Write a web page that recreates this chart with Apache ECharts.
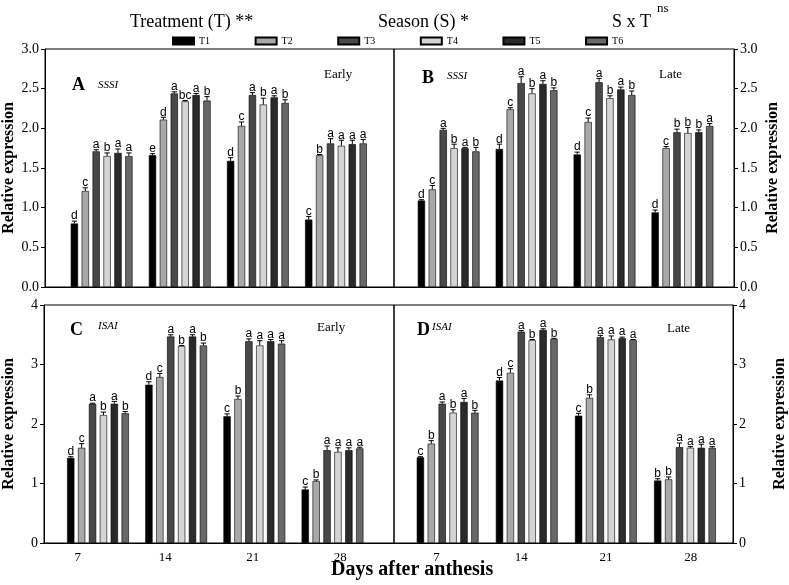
<!DOCTYPE html>
<html>
<head>
<meta charset="utf-8">
<script src="https://cdn.jsdelivr.net/npm/echarts@6/dist/echarts.min.js"></script>
<style>html,body{margin:0;padding:0;background:#fff}#c{width:789px;height:585px}</style>
</head>
<body>
<div id="c"></div>
<script>
// ---------- DATA ----------
const DAYS = ['7', '14', '21', '28'];
const TREATMENTS = ['T1', 'T2', 'T3', 'T4', 'T5', 'T6'];
const TOP_TICKS = [0, 0.5, 1.0, 1.5, 2.0, 2.5, 3.0];
const BOTTOM_TICKS = [0, 1, 2, 3, 4];

// Panel A: SSSI, Early (rows T1..T6, columns 7,14,21,28 days)
const A_mean = [
  [0.80, 1.66, 1.59, 0.85],
  [1.21, 2.11, 2.03, 1.66],
  [1.71, 2.44, 2.42, 1.81],
  [1.65, 2.34, 2.30, 1.78],
  [1.69, 2.42, 2.39, 1.80],
  [1.65, 2.35, 2.32, 1.81]
];
const A_err = [
  [0.03, 0.02, 0.04, 0.04],
  [0.04, 0.03, 0.05, 0.01],
  [0.02, 0.02, 0.03, 0.06],
  [0.04, 0.01, 0.08, 0.07],
  [0.05, 0.02, 0.02, 0.05],
  [0.04, 0.05, 0.04, 0.05]
];
const A_letters = [
  ['d', 'e', 'd', 'c'],
  ['c', 'd', 'c', 'b'],
  ['a', 'a', 'a', 'a'],
  ['b', 'bc', 'b', 'a'],
  ['a', 'a', 'a', 'a'],
  ['a', 'b', 'b', 'a']
];

// Panel B: SSSI, Late
const B_mean = [
  [1.09, 1.74, 1.67, 0.94],
  [1.23, 2.24, 2.08, 1.75],
  [1.98, 2.57, 2.58, 1.95],
  [1.75, 2.44, 2.38, 1.94],
  [1.75, 2.56, 2.49, 1.95],
  [1.71, 2.48, 2.42, 2.03]
];
const B_err = [
  [0.01, 0.06, 0.03, 0.03],
  [0.05, 0.02, 0.05, 0.02],
  [0.02, 0.08, 0.05, 0.04],
  [0.05, 0.06, 0.03, 0.07],
  [0.01, 0.04, 0.03, 0.03],
  [0.05, 0.03, 0.05, 0.03]
];
const B_letters = [
  ['d', 'd', 'd', 'd'],
  ['c', 'c', 'c', 'c'],
  ['a', 'a', 'a', 'b'],
  ['b', 'b', 'b', 'b'],
  ['a', 'a', 'a', 'b'],
  ['b', 'b', 'b', 'a']
];

// Panel C: ISAI, Early
const C_mean = [
  [1.43, 2.66, 2.13, 0.90],
  [1.60, 2.79, 2.42, 1.04],
  [2.34, 3.47, 3.39, 1.56],
  [2.15, 3.31, 3.32, 1.53],
  [2.34, 3.47, 3.39, 1.56],
  [2.18, 3.32, 3.35, 1.59]
];
const C_err = [
  [0.02, 0.05, 0.04, 0.04],
  [0.07, 0.06, 0.05, 0.02],
  [0.01, 0.03, 0.04, 0.07],
  [0.05, 0.01, 0.08, 0.07],
  [0.04, 0.03, 0.03, 0.04],
  [0.03, 0.04, 0.05, 0.02]
];
const C_letters = [
  ['d', 'd', 'c', 'c'],
  ['c', 'c', 'b', 'b'],
  ['a', 'a', 'a', 'a'],
  ['b', 'b', 'a', 'a'],
  ['a', 'a', 'a', 'a'],
  ['b', 'b', 'a', 'a']
];

// Panel D: ISAI, Late
const D_mean = [
  [1.44, 2.73, 2.14, 1.05],
  [1.67, 2.86, 2.44, 1.07],
  [2.34, 3.55, 3.46, 1.61],
  [2.19, 3.41, 3.42, 1.60],
  [2.37, 3.58, 3.44, 1.60],
  [2.19, 3.43, 3.41, 1.60]
];
const D_err = [
  [0.01, 0.05, 0.04, 0.03],
  [0.05, 0.07, 0.05, 0.04],
  [0.03, 0.02, 0.03, 0.07],
  [0.05, 0.01, 0.06, 0.02],
  [0.06, 0.02, 0.02, 0.06],
  [0.04, 0.01, 0.01, 0.02]
];
const D_letters = [
  ['c', 'd', 'c', 'b'],
  ['b', 'c', 'b', 'b'],
  ['a', 'a', 'a', 'a'],
  ['b', 'b', 'a', 'a'],
  ['a', 'a', 'a', 'a'],
  ['b', 'b', 'a', 'a']
];

// ---------- STYLE / LAYOUT ----------
const SERIF = '"Liberation Serif", "Times New Roman", serif';
const SANS = '"Liberation Sans", Arial, sans-serif';
const COLORS = ['#000000', '#a8a8a8', '#484848', '#d4d4d4', '#2a2a2a', '#686868'];
const BAR_W = 7.3;
const PITCH = 10.9;

const panels = [
  { mean: A_mean, err: A_err, letters: A_letters, ticks: TOP_TICKS, fmt: v => v.toFixed(1), pos: 'left',
    frame: { left: 43, top: 49, width: 351, height: 238 }, bars: { left: 62.6, width: 312.4 }, nameGap: 28, labels: false, lblPad: 0 },
  { mean: B_mean, err: B_err, letters: B_letters, ticks: TOP_TICKS, fmt: v => v.toFixed(1), pos: 'right',
    frame: { left: 394, top: 49, width: 340, height: 238 }, bars: { left: 409.7, width: 311.7 }, nameGap: 31, labels: false, lblPad: 0 },
  { mean: C_mean, err: C_err, letters: C_letters, ticks: BOTTOM_TICKS, fmt: v => String(v), pos: 'left',
    frame: { left: 42, top: 305, width: 352, height: 238 }, bars: { left: 58.9, width: 312.7 }, nameGap: 27, labels: true, lblPad: 20 },
  { mean: D_mean, err: D_err, letters: D_letters, ticks: BOTTOM_TICKS, fmt: v => String(v), pos: 'right',
    frame: { left: 394, top: 305, width: 342, height: 238 }, bars: { left: 408.1, width: 316.4 }, nameGap: 39, labels: true, lblPad: 0 }
];

const grid = [], xAxis = [], yAxis = [], series = [];

panels.forEach((p, k) => {
  const ymin = p.ticks[0], ymax = p.ticks[p.ticks.length - 1];
  const step = p.ticks[1] - p.ticks[0];
  grid[k] = { left: p.frame.left, top: p.frame.top, width: p.frame.width, height: p.frame.height,
              show: true, borderColor: '#000', borderWidth: 1, containLabel: false };
  grid[4 + k] = { left: p.bars.left, top: p.frame.top, width: p.bars.width, height: p.frame.height, containLabel: false };
  xAxis[k] = {
    type: 'category', gridIndex: k, data: DAYS, boundaryGap: true,
    axisLine: { show: true, lineStyle: { color: '#000', width: 1 } },
    axisTick: { show: false },
    axisLabel: { show: p.labels, color: '#000', fontFamily: SERIF, fontSize: 13, margin: 8,
                 padding: [0, p.lblPad, 0, 0] },
    splitLine: { show: false }
  };
  xAxis[4 + k] = { type: 'category', gridIndex: 4 + k, data: DAYS, show: false, boundaryGap: true };
  yAxis[k] = {
    type: 'value', gridIndex: k, position: p.pos, min: ymin, max: ymax, interval: step,
    axisLine: { show: true, lineStyle: { color: '#000', width: 1 } },
    axisTick: { show: true, inside: false, length: 4, lineStyle: { color: '#000' } },
    axisLabel: { color: '#000', fontFamily: SERIF, fontSize: 14, margin: 6, formatter: p.fmt },
    splitLine: { show: false },
    name: 'Relative expression', nameLocation: 'middle', nameGap: p.nameGap,
    nameRotate: 90,
    nameTextStyle: { color: '#000', fontFamily: SERIF, fontSize: 16, fontWeight: 'bold' }
  };
  yAxis[4 + k] = { type: 'value', gridIndex: 4 + k, min: ymin, max: ymax, interval: step, show: false };

  TREATMENTS.forEach((t, i) => {
    series.push({
      type: 'bar', name: t, xAxisIndex: 4 + k, yAxisIndex: 4 + k,
      data: p.mean[i], barWidth: BAR_W, barGap: ((PITCH - BAR_W) / BAR_W * 100).toFixed(1) + '%',
      itemStyle: { color: COLORS[i], borderColor: '#000', borderWidth: 0.6 },
      animation: false
    });
  });

  const errData = [];
  TREATMENTS.forEach((t, i) => {
    DAYS.forEach((d, j) => { errData.push([j, p.mean[i][j], p.err[i][j], i]); });
  });
  const letters = p.letters;
  series.push({
    type: 'custom', xAxisIndex: 4 + k, yAxisIndex: 4 + k, z: 5, animation: false, silent: true,
    data: errData,
    renderItem: function (params, api) {
      const j = api.value(0), v = api.value(1), e = api.value(2), i = api.value(3);
      const base = api.coord([j, v]);
      const cx = base[0] + (i - 2.5) * PITCH;
      const topY = api.coord([j, v + e])[1];
      return {
        type: 'group',
        children: [
          { type: 'line', shape: { x1: cx, y1: base[1], x2: cx, y2: topY }, style: { stroke: '#000', lineWidth: 1 } },
          { type: 'line', shape: { x1: cx - 2.6, y1: topY, x2: cx + 2.6, y2: topY }, style: { stroke: '#000', lineWidth: 1 } },
          { type: 'text', style: { text: letters[i][j], x: cx, y: topY + 1, textAlign: 'center', textVerticalAlign: 'bottom',
              font: '12px ' + SANS, fill: '#000' } }
        ]
      };
    }
  });
});

function txt(text, x, y, size, weight, style, family) {
  return { type: 'text', left: x, top: y,
    style: { text: text, font: (style || 'normal') + ' ' + (weight || 'normal') + ' ' + size + 'px ' + (family || SERIF),
             fill: '#000', textVerticalAlign: 'middle' } };
}

const graphic = [
  txt('Treatment (T) **', 130, 13, 18),
  txt('Season (S) *', 378, 13, 18),
  txt('S x T', 612, 13, 18),
  txt('ns', 657, 2, 13),
  txt('A', 72, 76, 18, 'bold'),
  txt('SSSI', 98, 80, 11, 'normal', 'italic'),
  txt('Early', 324, 68, 13),
  txt('B', 422, 69, 18, 'bold'),
  txt('SSSI', 447, 71, 11, 'normal', 'italic'),
  txt('Late', 659, 68, 13),
  txt('C', 70, 321, 18, 'bold'),
  txt('ISAI', 98, 321, 11, 'normal', 'italic'),
  txt('Early', 317, 321, 13),
  txt('D', 417, 321, 18, 'bold'),
  txt('ISAI', 432, 322, 11, 'normal', 'italic'),
  txt('Late', 667, 322, 13),
  txt('Days after anthesis', 331, 560, 20, 'bold')
];

const chart = echarts.init(document.getElementById('c'), null, { renderer: 'canvas' });
chart.setOption({
  animation: false,
  backgroundColor: '#fff',
  legend: {
    data: TREATMENTS, left: 167, top: 31, itemWidth: 21, itemHeight: 7, itemGap: 44.5, icon: 'rect',
    textStyle: { fontFamily: SERIF, fontSize: 10, color: '#000' }, selectedMode: false
  },
  grid: grid, xAxis: xAxis, yAxis: yAxis, series: series, graphic: graphic
});
</script>
</body>
</html>
